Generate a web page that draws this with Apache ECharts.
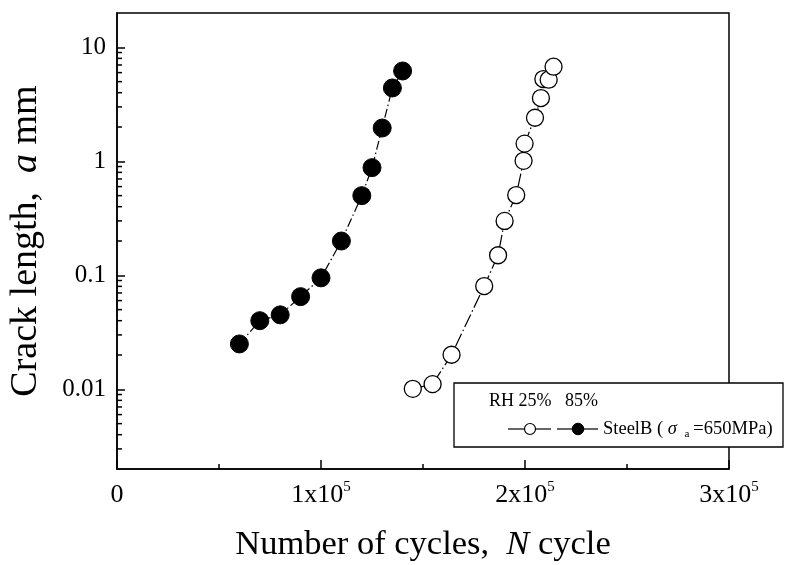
<!DOCTYPE html>
<html><head><meta charset="utf-8">
<script src="https://cdn.jsdelivr.net/npm/echarts@6/dist/echarts.min.js"></script>
<style>html,body{margin:0;padding:0;background:#fff}#c{width:796px;height:565px}</style>
</head><body><div id="c"></div>
<script>
// RH 85% (filled circles)
const cyclesRH85 = [60000, 70000, 80000, 90000, 100000, 110000, 120000, 125000, 130000, 135000, 140000];
const crackRH85  = [0.025, 0.04, 0.045, 0.065, 0.095, 0.2, 0.5, 0.88, 1.96, 4.4, 6.2];
// RH 25% (open circles)
const cyclesRH25 = [145000, 154700, 164000, 180000, 186800, 190000, 195700, 199300, 199800, 204900, 207800, 209000, 211600, 214000];
const crackRH25  = [0.0101, 0.0111, 0.0201, 0.0805, 0.15, 0.30, 0.506, 1.01, 1.43, 2.41, 3.59, 5.27, 5.2, 6.76];
// axis ticks
const xTickLabels = ['0', '1x10', '2x10', '3x10'];
const yTickValues = [0.01, 0.1, 1, 10];
const yTickLabels = ['0.01', '0.1', '1', '10'];
const yMin = 0.002, yMax = 20;

const FONT = '"Liberation Serif", "DejaVu Serif", serif';

// minor log ticks 2..9 in each decade
const yMinorTicks = [];
for (let k = -3; k <= 1; k++) {
  for (let m = 2; m <= 9; m++) {
    const v = m * Math.pow(10, k);
    if (v > yMin * 1.0001 && v < yMax * 0.9999) yMinorTicks.push(v);
  }
}

const chart = echarts.init(document.getElementById('c'), null, {renderer: 'canvas'});

function yLabel(v) {
  for (let i = 0; i < yTickValues.length; i++) {
    if (Math.abs(Math.log10(v) - Math.log10(yTickValues[i])) < 1e-6) return yTickLabels[i];
  }
  return '';
}

const option = {
  animation: false,
  backgroundColor: '#fff',
  grid: {left: 117, top: 13, right: 67, bottom: 96, outerBoundsMode: 'none', containLabel: false,
         show: true, borderColor: '#000', borderWidth: 1.5, backgroundColor: 'transparent'},
  xAxis: {
    type: 'value', min: 0, max: 300000, interval: 100000,
    name: '{r|Number of cycles,  }{i|N}{r| cycle}',
    nameLocation: 'middle', nameGap: 58,
    nameTextStyle: {rich: {
      r: {fontFamily: FONT, fontSize: 34.5, color: '#000'},
      i: {fontFamily: FONT, fontSize: 34.5, fontStyle: 'italic', color: '#000'}
    }},
    axisLine: {show: true, onZero: false, lineStyle: {color: '#000', width: 1.5}},
    axisTick: {show: true, inside: true, length: 9, lineStyle: {color: '#000', width: 1.5}},
    minorTick: {show: true, splitNumber: 2, length: 5, lineStyle: {color: '#000', width: 1.5}},
    splitLine: {show: false},
    axisLabel: {
      margin: 11,
      formatter: function (v) {
        const i = Math.round(v / 100000);
        if (i === 0) return '{n|' + xTickLabels[0] + '}';
        return '{n|' + xTickLabels[i] + '}{s|5}';
      },
      rich: {
        n: {fontFamily: FONT, fontSize: 26, color: '#000', lineHeight: 30},
        s: {fontFamily: FONT, fontSize: 15, color: '#000', lineHeight: 16, verticalAlign: 'top'}
      }
    }
  },
  yAxis: {
    type: 'log', logBase: 10, min: yMin, max: yMax,
    name: '{r|Crack length,  }{i|a}{r| mm}',
    nameLocation: 'middle', nameGap: 72, nameRotate: 90,
    nameTextStyle: {rich: {
      r: {fontFamily: FONT, fontSize: 38, color: '#000'},
      i: {fontFamily: FONT, fontSize: 38, fontStyle: 'italic', color: '#000'}
    }},
    axisLine: {show: true, onZero: false, lineStyle: {color: '#000', width: 1.5}},
    axisTick: {show: true, inside: true, length: 8, lineStyle: {color: '#000', width: 1.5}},
    splitLine: {show: false},
    axisLabel: {
      margin: 11, fontFamily: FONT, fontSize: 25, color: '#000',
      showMinLabel: false, showMaxLabel: false,
      formatter: yLabel
    }
  },
  series: [
    {
      name: 'RH85', type: 'line',
      data: cyclesRH85.map((x, i) => [x, crackRH85[i]]),
      symbol: 'circle', symbolSize: 18,
      itemStyle: {color: '#000', borderColor: '#000', borderWidth: 1},
      lineStyle: {color: '#000', width: 1.2, type: [9, 3, 1.5, 3]},
      z: 3
    },
    {
      name: 'RH25', type: 'line',
      data: cyclesRH25.map((x, i) => [x, crackRH25[i]]),
      symbol: 'circle', symbolSize: 17,
      itemStyle: {color: '#fff', borderColor: '#000', borderWidth: 1.3},
      lineStyle: {color: '#000', width: 1.2, type: [14, 3, 1.5, 3]},
      z: 3
    },
    {
      name: 'minorY', type: 'custom', silent: true, clip: false, z: 4,
      data: yMinorTicks.map(v => [0, v]),
      renderItem: function (params, api) {
        const p = api.coord([0, api.value(1)]);
        return {type: 'line', shape: {x1: p[0], y1: p[1], x2: p[0] + 5, y2: p[1]},
                style: {stroke: '#000', lineWidth: 1.5}};
      }
    }
  ],
  graphic: [
    {type: 'rect', z: 100, shape: {x: 454, y: 383, width: 329, height: 64},
     style: {fill: '#fff', stroke: '#000', lineWidth: 1.3}},
    {type: 'text', z: 101, x: 489, y: 410, style: {text: 'RH 25%   85%', font: '18px ' + FONT, fill: '#000', textVerticalAlign: 'bottom'}},
    {type: 'line', z: 101, shape: {x1: 508, y1: 429, x2: 524, y2: 429}, style: {stroke: '#000', lineWidth: 1.2}},
    {type: 'circle', z: 102, shape: {cx: 530, cy: 429, r: 5.5}, style: {fill: '#fff', stroke: '#000', lineWidth: 1.2}},
    {type: 'line', z: 101, shape: {x1: 536, y1: 429, x2: 551, y2: 429}, style: {stroke: '#000', lineWidth: 1.2}},
    {type: 'line', z: 101, shape: {x1: 557, y1: 429, x2: 573, y2: 429}, style: {stroke: '#000', lineWidth: 1.2}},
    {type: 'circle', z: 102, shape: {cx: 578, cy: 429, r: 5.8}, style: {fill: '#000', stroke: '#000', lineWidth: 1}},
    {type: 'line', z: 101, shape: {x1: 583, y1: 429, x2: 598, y2: 429}, style: {stroke: '#000', lineWidth: 1.2}},
    {type: 'text', z: 101, x: 603, y: 429, style: {
      text: '{r|SteelB ( }{i|σ}{r| }{s|a}{r|=650MPa)}',
      textVerticalAlign: 'middle',
      rich: {
        r: {fontFamily: FONT, fontSize: 18.5, color: '#000', lineHeight: 22},
        i: {fontFamily: FONT, fontSize: 18.5, fontStyle: 'italic', color: '#000', lineHeight: 22},
        s: {fontFamily: FONT, fontSize: 11, color: '#000', lineHeight: 11, verticalAlign: 'bottom', padding: [0, 4, 0, 3]}
      }
    }}
  ]
};
chart.setOption(option);
</script>
</body></html>
